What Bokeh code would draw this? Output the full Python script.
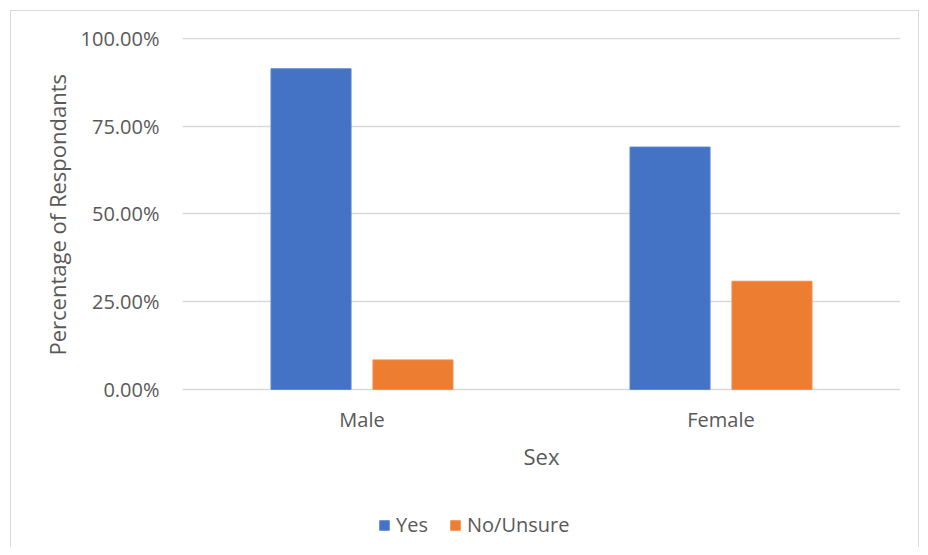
from bokeh.plotting import figure
from bokeh.models import (ColumnDataSource, FactorRange, Range1d, FixedTicker, Title,
                          NumeralTickFormatter, Legend, LegendItem, InlineStyleSheet)
from bokeh.core.properties import value
from bokeh.transform import dodge
from bokeh.embed import file_html
from bokeh.resources import INLINE

# Data
sexes = ["Male", "Female"]
yes_share = [0.913, 0.690]
no_unsure_share = [0.084, 0.308]
y_ticks = [0.0, 0.25, 0.5, 0.75, 1.0]
x_title = "Sex"
y_title = "Percentage of Respondants"

BLUE = "#4472C4"
ORANGE = "#ED7D31"
GRID = "#d9d9d9"
TEXT = "#595959"
FONT = "Open Sans"
FS = "20px"
FS_TITLE = "22px"

# layout geometry (pixels)
PX_PER_UNIT = 351.0          # pixels for 100 %
BELOW_ZERO_PX = 150.0        # frame extends below the 0 % line to hold labels + legend
Y_START = -BELOW_ZERO_PX / PX_PER_UNIT
Y_END = 1.002
CAT_LABEL_Y = -30.0 / PX_PER_UNIT
X_TITLE_Y = -67.0 / PX_PER_UNIT

source = ColumnDataSource(dict(sex=sexes, yes=yes_share, no=no_unsure_share))

border_css = InlineStyleSheet(css="""
:host::after {
  content: '';
  position: absolute;
  left: 10px; top: 10px; right: 1px; bottom: -8px;
  border: 1.5px solid #d9d9d9;
  border-bottom: none;
  pointer-events: none;
  z-index: 100;
}
""")

p = figure(
    width=920, height=539,
    x_range=FactorRange(factors=sexes, range_padding=0),
    y_range=Range1d(Y_START, Y_END),
    output_backend="svg", toolbar_location=None,
    min_border_left=182, min_border_right=20,
    min_border_top=37, min_border_bottom=0,
    stylesheets=[border_css],
)

r_yes = p.vbar(x=dodge("sex", -0.142, range=p.x_range), top="yes", bottom=0, width=0.223,
               source=source, fill_color=BLUE, line_color="#5a86d0", line_width=1)
r_no = p.vbar(x=dodge("sex", 0.142, range=p.x_range), top="no", bottom=0, width=0.223,
              source=source, fill_color=ORANGE, line_color="#f08f4d", line_width=1)

# category labels and x-axis title, placed through the plot's scales
p.text(x=sexes, y=[CAT_LABEL_Y] * len(sexes), text=sexes,
       text_align="center", text_baseline="middle",
       text_font=value(FONT), text_font_size=value(FS), text_color=TEXT)
p.text(x=[sexes[0]], y=[X_TITLE_Y], text=[x_title], x_offset=179.5,
       text_align="center", text_baseline="middle",
       text_font=value(FONT), text_font_size=value(FS_TITLE), text_color=TEXT)

p.outline_line_color = None
p.xaxis.visible = False
p.xgrid.grid_line_color = None
p.ygrid.grid_line_color = GRID
p.ygrid.grid_line_width = 1.5

p.yaxis.ticker = FixedTicker(ticks=y_ticks)
p.yaxis.formatter = NumeralTickFormatter(format="0.00%")
p.yaxis.axis_line_color = None
p.yaxis.major_tick_line_color = None
p.yaxis.minor_tick_line_color = None
p.yaxis.major_tick_out = 0
p.yaxis.major_tick_in = 0
p.yaxis.major_label_standoff = 23
p.yaxis.major_label_text_font = FONT
p.yaxis.major_label_text_font_size = FS
p.yaxis.major_label_text_color = TEXT

p.add_layout(Title(text=y_title, align="left", offset=184, standoff=12,
                   text_font=FONT, text_font_size=FS_TITLE, text_color=TEXT,
                   text_font_style="normal"), "left")

legend = Legend(
    items=[LegendItem(label="Yes", renderers=[r_yes]),
           LegendItem(label="No/Unsure", renderers=[r_no])],
    location=(196, 1), orientation="horizontal",
    glyph_width=12, glyph_height=12, label_standoff=6, spacing=21,
    label_text_font=FONT, label_text_font_size=FS, label_text_color=TEXT,
    border_line_color=None, background_fill_alpha=0, margin=0, padding=0,
)
p.add_layout(legend, "center")

open("out.html", "w").write(file_html(p, INLINE))
